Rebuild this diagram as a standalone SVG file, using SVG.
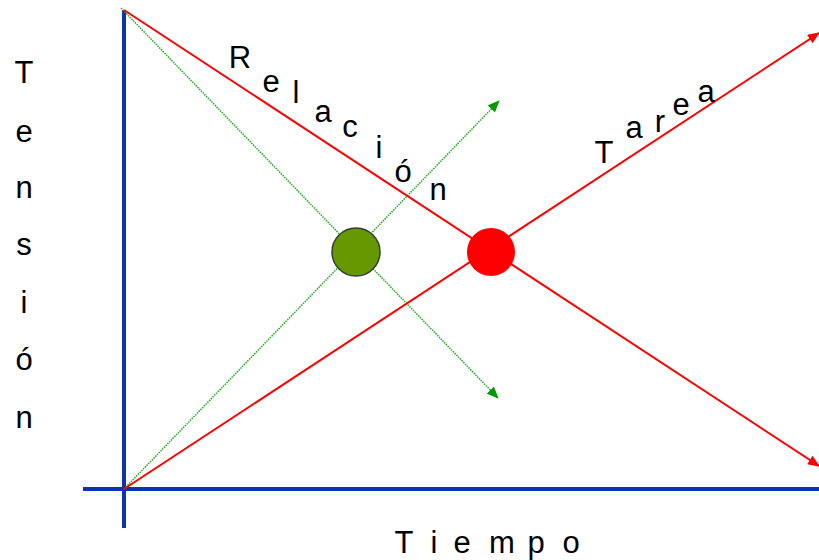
<svg xmlns="http://www.w3.org/2000/svg" width="819" height="560" viewBox="0 0 819 560">
<style>
  .lbl { font-family: "Liberation Sans", Arial, sans-serif; font-size: 31px; fill: #000; text-anchor: middle; }
  .axis { stroke: #0a32b4; stroke-width: 4; fill: none; }
  .red { stroke: #ff0000; stroke-width: 2; fill: none; }
  .green { stroke: #22aa22; stroke-width: 1.5; stroke-dasharray: 1.5 1; fill: none; }
</style>
<defs>
  <marker id="arrRed" markerWidth="12" markerHeight="10" refX="11" refY="5" orient="auto" markerUnits="userSpaceOnUse">
    <path d="M0,0 L12,5 L0,10 z" fill="#ff0000"/>
  </marker>
  <marker id="arrGreen" markerWidth="12" markerHeight="10" refX="11" refY="5" orient="auto" markerUnits="userSpaceOnUse">
    <path d="M0,0 L12,5 L0,10 z" fill="#009900"/>
  </marker>
</defs>
<rect width="819" height="560" fill="#ffffff"/>
<g id="axes">
  <line class="axis" x1="124" y1="10" x2="124" y2="528"/>
  <line class="axis" x1="83" y1="489" x2="819" y2="489"/>
</g>
<g id="connectors">
  <line class="green" x1="121" y1="8" x2="498" y2="398" marker-end="url(#arrGreen)"/>
  <line class="green" x1="124" y1="489" x2="499" y2="101" marker-end="url(#arrGreen)"/>
  <line class="red" x1="124" y1="10" x2="819" y2="466" marker-end="url(#arrRed)"/>
  <line class="red" x1="124" y1="489" x2="819" y2="33" marker-end="url(#arrRed)"/>
</g>
<g id="node-relacion">
  <circle cx="356" cy="252" r="24" fill="#669900" stroke="#3a3a3a" stroke-width="1.5"/>
</g>
<g id="node-tarea">
  <circle cx="491" cy="252" r="24" fill="#ff0000"/>
</g>
<g id="label-tension" class="lbl">
  <text class="lbl" x="24" y="83">T</text>
  <text class="lbl" x="24" y="142">e</text>
  <text class="lbl" x="24" y="198">n</text>
  <text class="lbl" x="24" y="255">s</text>
  <text class="lbl" x="24" y="313">i</text>
  <text class="lbl" x="24" y="370">ó</text>
  <text class="lbl" x="24" y="428">n</text>
</g>
<g id="label-tiempo">
  <text class="lbl" x="404" y="553">T</text>
  <text class="lbl" x="434" y="553">i</text>
  <text class="lbl" x="462" y="553">e</text>
  <text class="lbl" x="502" y="553">m</text>
  <text class="lbl" x="536" y="553">p</text>
  <text class="lbl" x="571" y="553">o</text>
</g>
<g id="label-relacion">
  <text class="lbl" x="240" y="68">R</text>
  <text class="lbl" x="271" y="92">e</text>
  <text class="lbl" x="296" y="103">l</text>
  <text class="lbl" x="323" y="122">a</text>
  <text class="lbl" x="350" y="137">c</text>
  <text class="lbl" x="379" y="158">i</text>
  <text class="lbl" x="403" y="182">ó</text>
  <text class="lbl" x="438" y="200">n</text>
</g>
<g id="label-tarea">
  <text class="lbl" x="604" y="163">T</text>
  <text class="lbl" x="634" y="138">a</text>
  <text class="lbl" x="660" y="132">r</text>
  <text class="lbl" x="681" y="115">e</text>
  <text class="lbl" x="706" y="102">a</text>
</g>
</svg>
